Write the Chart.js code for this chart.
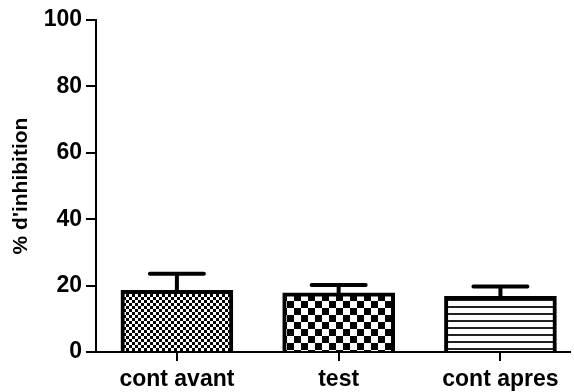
<!DOCTYPE html>
<html>
<head>
<meta charset="utf-8">
<script src="https://cdn.jsdelivr.net/npm/chart.js@4/dist/chart.umd.min.js"></script>
<style>
  html, body { margin: 0; padding: 0; background: #fff; }
  #wrap { width: 574px; height: 392px; }
</style>
</head>
<body>
<div id="wrap"><canvas id="c" width="574" height="392"></canvas></div>
<script>
// Groups and measured inhibition (mean and upper SEM)
const categories = ['cont avant', 'test', 'cont apres'];
const meanValues = [18.6, 17.8, 16.8];
const semValues = [5.0, 2.4, 2.9];
const yTicks = [0, 20, 40, 60, 80, 100];
const yTitle = "% d'inhibition";

const FONT = 'Liberation Sans, Arial, sans-serif';

// Fill patterns for each bar
function makePattern(kind) {
  const c = document.createElement('canvas');
  const ctx = c.getContext('2d');
  if (kind === 'fine') {
    const s = 3;
    c.width = c.height = s * 2;
    ctx.fillStyle = '#fff'; ctx.fillRect(0, 0, s * 2, s * 2);
    ctx.fillStyle = '#000';
    ctx.fillRect(0, 0, s, s); ctx.fillRect(s, s, s, s);
  } else if (kind === 'coarse') {
    const s = 7;
    c.width = c.height = s * 2;
    ctx.fillStyle = '#fff'; ctx.fillRect(0, 0, s * 2, s * 2);
    ctx.fillStyle = '#000';
    ctx.fillRect(0, 0, s, s); ctx.fillRect(s, s, s, s);
  } else {
    c.width = 8; c.height = 7;
    ctx.fillStyle = '#fff'; ctx.fillRect(0, 0, 8, 7);
    ctx.fillStyle = '#222';
    ctx.fillRect(0, 5, 8, 2);
  }
  return document.getElementById('c').getContext('2d').createPattern(c, 'repeat');
}
const fills = [makePattern('fine'), makePattern('coarse'), makePattern('stripes')];

// Upper error bars with caps
const errorBars = {
  id: 'errorBars',
  afterDatasetsDraw(chart) {
    const { ctx, scales: { x, y } } = chart;
    ctx.save();
    ctx.strokeStyle = '#000';
    ctx.lineWidth = 4;
    ctx.lineCap = 'round';
    meanValues.forEach((m, i) => {
      const px = x.getPixelForValue(i);
      const top = y.getPixelForValue(m + semValues[i]);
      const base = y.getPixelForValue(m);
      ctx.beginPath();
      ctx.moveTo(px, base);
      ctx.lineTo(px, top);
      ctx.moveTo(px - 27, top);
      ctx.lineTo(px + 27, top);
      ctx.stroke();
    });
    ctx.restore();
  }
};

// Rotated y-axis title
const yTitlePlugin = {
  id: 'yTitle',
  afterDraw(chart) {
    const { ctx } = chart;
    ctx.save();
    ctx.translate(21, 186);
    ctx.rotate(-Math.PI / 2);
    ctx.fillStyle = '#000';
    ctx.font = 'bold 21px ' + FONT;
    ctx.textAlign = 'center';
    ctx.textBaseline = 'middle';
    ctx.fillText(yTitle, 0, 0);
    ctx.restore();
  }
};

new Chart(document.getElementById('c'), {
  type: 'bar',
  data: {
    datasets: [{
      data: meanValues.map((v, i) => ({ x: i, y: v })),
      backgroundColor: fills,
      borderColor: '#000',
      borderWidth: 4,
      barThickness: 112
    }]
  },
  options: {
    responsive: false,
    animation: false,
    layout: { padding: { left: 0, right: 4, top: 20, bottom: 0 } },
    plugins: { legend: { display: false }, tooltip: { enabled: false } },
    scales: {
      x: {
        type: 'linear',
        offset: false,
        min: -0.5,
        max: 2.43,
        afterBuildTicks(scale) { scale.ticks = categories.map((_, i) => ({ value: i })); },
        afterFit(scale) { scale.height = 40; },
        ticks: {
          autoSkip: false,
          maxRotation: 0,
          padding: 5,
          color: '#000',
          font: { family: FONT, size: 23, weight: 'bold' },
          callback: (v) => categories[v]
        },
        grid: { display: true, offset: false, drawOnChartArea: false, drawTicks: true, tickLength: 9, color: '#000', lineWidth: 2 },
        border: { display: true, color: '#000', width: 2 }
      },
      y: {
        min: 0,
        max: 100,
        afterBuildTicks(scale) { scale.ticks = yTicks.map(v => ({ value: v })); },
        afterFit(scale) { scale.width = 96; },
        ticks: {
          padding: 4,
          color: '#000',
          font: { family: FONT, size: 23, weight: 'bold' }
        },
        grid: { display: true, drawOnChartArea: false, drawTicks: true, tickLength: 10, color: '#000', lineWidth: 2 },
        border: { display: true, color: '#000', width: 2 }
      }
    }
  },
  plugins: [errorBars, yTitlePlugin]
});
</script>
</body>
</html>
